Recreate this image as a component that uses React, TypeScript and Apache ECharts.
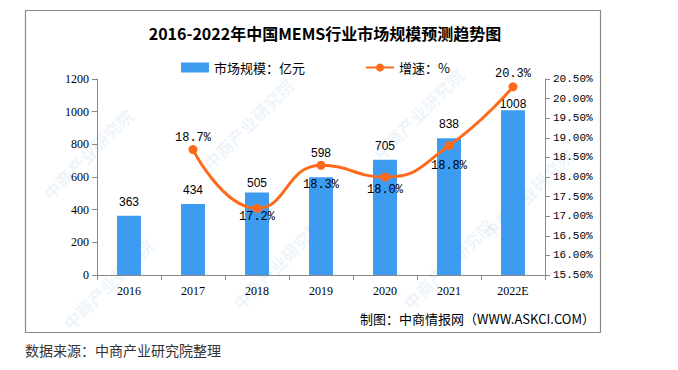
import React, { useEffect, useRef } from "react";
import * as echarts from "echarts";

const categories = ["2016", "2017", "2018", "2019", "2020", "2021", "2022E"];
const marketSize = [363, 434, 505, 598, 705, 838, 1008];
const growth: (number | null)[] = [null, 18.7, 17.2, 18.3, 18.0, 18.8, 20.3];
const growthLabelPos = ["top", "top", "bottom", "bottom", "bottom", "bottom", "top"];
const growthLabelShift = [0, 0, -3, 8, 1, 9, -1];
const sizeLabelShift = [0, 0, 4, -10, 0, 0, 8];

const watermarks = [
  [40, 190], [60, 320], [200, 160], [230, 300], [370, 150], [400, 300], [480, 230],
];

export default function App() {
  const ref = useRef<HTMLDivElement>(null);
  useEffect(() => {
    document.body.style.margin = "0";
    const chart = echarts.init(ref.current!, null, { renderer: "svg" });
    const wm = watermarks.map(([x, y]) => ({
      type: "text",
      x,
      y,
      rotation: Math.PI / 4,
      silent: true,
      z: 0,
      style: {
        text: "中商产业研究院",
        fontSize: 17,
        fontWeight: "bold",
        fontFamily: "Noto Sans CJK SC",
        fill: "rgba(140,185,225,0.16)",
      },
    }));
    chart.setOption({
      animation: false,
      backgroundColor: "#fff",
      title: {
        text: "2016-2022年中国MEMS行业市场规模预测趋势图",
        left: 320,
        textAlign: "center",
        top: 20,
        textStyle: { fontSize: 16, fontWeight: "bold", color: "#000", fontFamily: "Noto Sans CJK SC" },
      },
      legend: {
        left: 176,
        top: 56,
        itemWidth: 28,
        itemHeight: 10,
        itemGap: 60,
        textStyle: { fontSize: 13, color: "#000", fontFamily: "Noto Sans CJK SC" },
        data: [
          { name: "市场规模：亿元", icon: "rect" },
          { name: "增速：%" },
        ],
      },
      grid: { left: 97, right: 133, top: 79, bottom: 95 },
      xAxis: {
        type: "category",
        data: categories,
        axisLine: { lineStyle: { color: "#888" } },
        axisTick: { show: true, alignWithLabel: false, lineStyle: { color: "#888" } },
        axisLabel: { color: "#000", fontSize: 12, fontFamily: "Liberation Serif", margin: 10 },
      },
      yAxis: [
        {
          type: "value",
          min: 0,
          max: 1200,
          interval: 200,
          splitLine: { show: false },
          axisLine: { show: true, lineStyle: { color: "#888" } },
          axisTick: { show: true, lineStyle: { color: "#888" } },
          axisLabel: {
            color: "#000",
            fontSize: 12,
            fontFamily: "Liberation Serif",
            formatter: (v: number) => String(v),
          },
        },
        {
          type: "value",
          min: 15.5,
          max: 20.5,
          interval: 0.5,
          splitLine: { show: false },
          axisLine: { show: true, lineStyle: { color: "#888" } },
          axisTick: { show: true, lineStyle: { color: "#888" } },
          axisLabel: {
            color: "#000",
            fontSize: 11,
            fontFamily: "Liberation Mono",
            formatter: (v: number) => v.toFixed(2) + "%",
          },
        },
      ],
      series: [
        {
          name: "市场规模：亿元",
          type: "bar",
          data: marketSize.map((v, i) => ({
            value: v,
            label: { offset: [0, sizeLabelShift[i]] },
          })),
          barWidth: 24,
          itemStyle: { color: "#3D9CF0" },
          label: { show: true, position: "top", color: "#000", fontSize: 12, fontFamily: "Liberation Sans", distance: 8 },
        },
        {
          name: "增速：%",
          type: "line",
          yAxisIndex: 1,
          smooth: true,
          symbol: "circle",
          symbolSize: 9,
          connectNulls: false,
          lineStyle: { color: "#FF6A1A", width: 3 },
          itemStyle: { color: "#FF6A1A" },
          data: growth.map((v, i) => ({
            value: v,
            label: { position: growthLabelPos[i], offset: [0, growthLabelShift[i]] },
          })),
          label: {
            show: true,
            color: "#000",
            fontSize: 12,
            fontFamily: "Liberation Mono",
            distance: 1,
            formatter: (p: any) => (p.value == null ? "" : Number(p.value).toFixed(1) + "%"),
          },
        },
      ],
      graphic: [
        ...wm,
        {
          type: "rect",
          silent: true,
          shape: { x: 25.5, y: 10.5, width: 575, height: 322 },
          style: { fill: "none", stroke: "#888", lineWidth: 1.2 },
        },
        {
          type: "text",
          x: 595,
          y: 318,
          style: {
            text: "制图：中商情报网（WWW.ASKCI.COM）",
            fontSize: 13,
            fontFamily: "Noto Sans CJK SC",
            fill: "#000",
            align: "right",
            verticalAlign: "middle",
          },
        },
        {
          type: "text",
          x: 25,
          y: 350,
          style: {
            text: "数据来源：中商产业研究院整理",
            fontSize: 14,
            fontFamily: "Noto Sans CJK SC",
            fill: "#333",
            align: "left",
            verticalAlign: "middle",
          },
        },
      ],
    });
    return () => chart.dispose();
  }, []);
  return <div ref={ref} style={{ width: 678, height: 370 }} />;
}
